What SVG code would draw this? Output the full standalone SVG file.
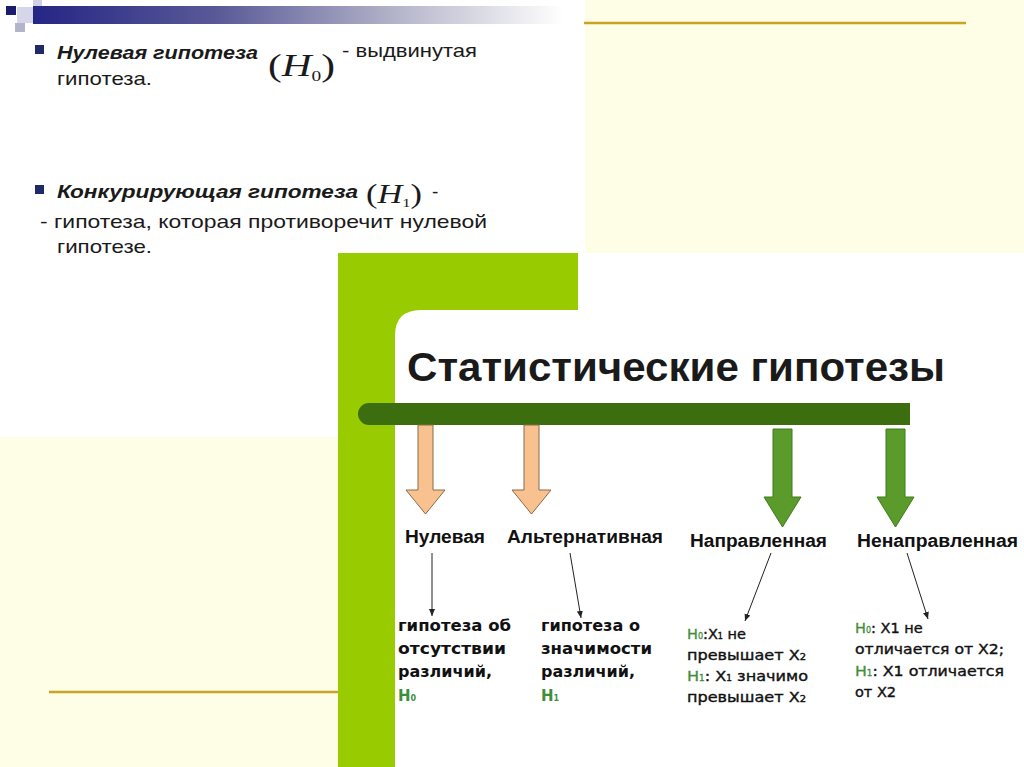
<svg xmlns="http://www.w3.org/2000/svg" width="1024" height="767" viewBox="0 0 1024 767">
<defs>
<linearGradient id="topbar" x1="0" x2="1" y1="0" y2="0">
<stop offset="0" stop-color="#252585"/>
<stop offset="0.35" stop-color="#5a5a98"/>
<stop offset="0.7" stop-color="#b8b8cc"/>
<stop offset="1" stop-color="#ffffff"/>
</linearGradient>
<marker id="ah" markerWidth="8" markerHeight="8" refX="7" refY="4" orient="auto" markerUnits="userSpaceOnUse">
<path d="M0,1 L7,4 L0,7 z" fill="#222"/>
</marker>
</defs>
<style>
.sans{font-family:"Liberation Sans",Arial,sans-serif;fill:#1a1a1a}
.bi{font-weight:bold;font-style:italic}
.math{font-family:"Liberation Serif","Times New Roman",serif;fill:#1a1a1a}
.lbl{font-family:"Liberation Sans",Arial,sans-serif;font-weight:bold;font-size:18px;fill:#111}
.desc{font-family:"DejaVu Sans",Verdana,sans-serif;font-weight:bold;font-size:15px;fill:#111}
.desc2{font-family:"DejaVu Sans",Verdana,sans-serif;font-size:14.5px;fill:#111;stroke:#111;stroke-width:0.4}
.g{fill:#3f8f3a;stroke:#3f8f3a}
.peach{fill:#f9c18f;stroke:#8a6a48;stroke-width:1}
.grn{fill:#5b9b2b;stroke:#427a1c;stroke-width:1}
.conn{stroke:#222;stroke-width:1;fill:none;marker-end:url(#ah)}
.gold{stroke:#c9a227;stroke-width:2.5}
</style>

<!-- backgrounds -->
<rect x="0" y="0" width="1024" height="767" fill="#fefee6"/>
<rect x="0" y="0" width="585" height="437" fill="#ffffff"/>
<line class="gold" x1="584" y1="23" x2="966" y2="23"/>
<line class="gold" x1="49" y1="692" x2="338" y2="692"/>
<rect x="338" y="253" width="686" height="514" fill="#ffffff"/>

<!-- slide 1 decoration -->
<g id="slide1-header">
<rect x="17" y="7" width="16" height="16" fill="#d6d6ea"/>
<rect x="33" y="0" width="9" height="7" fill="#d0d0e6"/>
<rect x="15" y="23" width="10" height="9" fill="#b4b4c8"/>
<rect x="6" y="6" width="10" height="9" fill="#1c1c6e"/>
<rect x="33" y="6" width="530" height="18" fill="url(#topbar)"/>
</g>

<g id="null-hypothesis">
<rect x="35" y="45" width="9" height="9" fill="#1f2a6b"/>
<text class="sans bi" x="57" y="59" font-size="19" textLength="201" lengthAdjust="spacingAndGlyphs">Нулевая гипотеза</text>
<text class="math" x="268" y="76" font-size="32" textLength="67" lengthAdjust="spacingAndGlyphs">(<tspan font-style="italic">H</tspan><tspan font-size="15" dy="5">0</tspan><tspan dy="-5">)</tspan></text>
<text class="sans" x="342" y="57" font-size="19" textLength="135" lengthAdjust="spacingAndGlyphs">- выдвинутая</text>
<text class="sans" x="57" y="85" font-size="19" textLength="95" lengthAdjust="spacingAndGlyphs">гипотеза.</text>
</g>

<g id="competing-hypothesis">
<rect x="35" y="185" width="9" height="9" fill="#1f2a6b"/>
<text class="sans bi" x="57" y="198" font-size="19" textLength="301" lengthAdjust="spacingAndGlyphs">Конкурирующая гипотеза</text>
<text class="math" x="366" y="203" font-size="27" textLength="56" lengthAdjust="spacingAndGlyphs">(<tspan font-style="italic">H</tspan><tspan font-size="13" dy="4">1</tspan><tspan dy="-4">)</tspan></text>
<text class="sans" x="432" y="198" font-size="19">-</text>
<text class="sans" x="40" y="228" font-size="19" textLength="447" lengthAdjust="spacingAndGlyphs">- гипотеза, которая противоречит нулевой</text>
<text class="sans" x="57" y="253" font-size="19" textLength="95" lengthAdjust="spacingAndGlyphs">гипотезе.</text>
</g>

<!-- slide 2 frame -->
<path d="M338,253 H578 V310 H421 Q395,310 395,336 V767 H338 Z" fill="#99cc00"/>

<g id="title">
<text class="sans" x="407" y="381" font-size="40" font-weight="bold" fill="#111" textLength="538" lengthAdjust="spacingAndGlyphs">Статистические гипотезы</text>
</g>

<g id="main-bar">
<path d="M369,403 H910 V425 H369 A11,11 0 0 1 369,403 Z" fill="#3c6e10"/>
</g>

<g id="arrow-null">
<polygon class="peach" points="418,425 433,425 433,490 445,490 425.5,514 406,490 418,490"/>
</g>
<g id="arrow-alt">
<polygon class="peach" points="524,425 539,425 539,490 551,490 531.5,514 512,490 524,490"/>
</g>
<g id="arrow-dir">
<polygon class="grn" points="773,429 792,429 792,497 801,497 782.5,527 764,497 773,497"/>
</g>
<g id="arrow-nondir">
<polygon class="grn" points="886,429 905,429 905,497 914,497 895.5,527 877,497 886,497"/>
</g>

<g id="label-null"><text class="lbl" x="405" y="543" textLength="80" lengthAdjust="spacingAndGlyphs">Нулевая</text></g>
<g id="label-alt"><text class="lbl" x="507" y="543" textLength="156" lengthAdjust="spacingAndGlyphs">Альтернативная</text></g>
<g id="label-dir"><text class="lbl" x="690" y="547" textLength="137" lengthAdjust="spacingAndGlyphs">Направленная</text></g>
<g id="label-nondir"><text class="lbl" x="857" y="547" textLength="161" lengthAdjust="spacingAndGlyphs">Ненаправленная</text></g>

<g id="connectors">
<line class="conn" x1="432" y1="553" x2="432" y2="616"/>
<line class="conn" x1="570" y1="553" x2="581" y2="618"/>
<line class="conn" x1="771" y1="553" x2="745" y2="621"/>
<line class="conn" x1="907" y1="553" x2="928" y2="619"/>
</g>

<g id="desc-null">
<text class="desc" x="398" y="631" textLength="113" lengthAdjust="spacingAndGlyphs">гипотеза об</text>
<text class="desc" x="398" y="654" textLength="108" lengthAdjust="spacingAndGlyphs">отсутствии</text>
<text class="desc" x="398" y="677" textLength="94" lengthAdjust="spacingAndGlyphs">различий,</text>
<text class="desc g" x="398" y="701" stroke-width="0">H<tspan font-size="8">0</tspan></text>
</g>
<g id="desc-alt">
<text class="desc" x="541" y="631" textLength="99" lengthAdjust="spacingAndGlyphs">гипотеза о</text>
<text class="desc" x="541" y="654" textLength="111" lengthAdjust="spacingAndGlyphs">значимости</text>
<text class="desc" x="541" y="677" textLength="94" lengthAdjust="spacingAndGlyphs">различий,</text>
<text class="desc g" x="541" y="701" stroke-width="0">H<tspan font-size="8">1</tspan></text>
</g>
<g id="desc-dir">
<text class="desc2" x="687" y="639"><tspan class="g" stroke-width="0.3">H<tspan font-size="8">0</tspan></tspan>:X<tspan font-size="8">1</tspan> не</text>
<text class="desc2" x="687" y="660" textLength="119" lengthAdjust="spacingAndGlyphs">превышает X<tspan font-size="9">2</tspan></text>
<text class="desc2" x="687" y="681" textLength="121" lengthAdjust="spacingAndGlyphs"><tspan class="g" stroke-width="0.3">H<tspan font-size="8">1</tspan></tspan>: X<tspan font-size="8">1</tspan> значимо</text>
<text class="desc2" x="687" y="702" textLength="119" lengthAdjust="spacingAndGlyphs">превышает X<tspan font-size="9">2</tspan></text>
</g>
<g id="desc-nondir">
<text class="desc2" x="855" y="633"><tspan class="g" stroke-width="0.3">H<tspan font-size="8">0</tspan></tspan>: X1 не</text>
<text class="desc2" x="855" y="654" textLength="149" lengthAdjust="spacingAndGlyphs">отличается от X2;</text>
<text class="desc2" x="855" y="676" textLength="149" lengthAdjust="spacingAndGlyphs"><tspan class="g" stroke-width="0.3">H<tspan font-size="8">1</tspan></tspan>: X1 отличается</text>
<text class="desc2" x="855" y="697">от X2</text>
</g>
</svg>
